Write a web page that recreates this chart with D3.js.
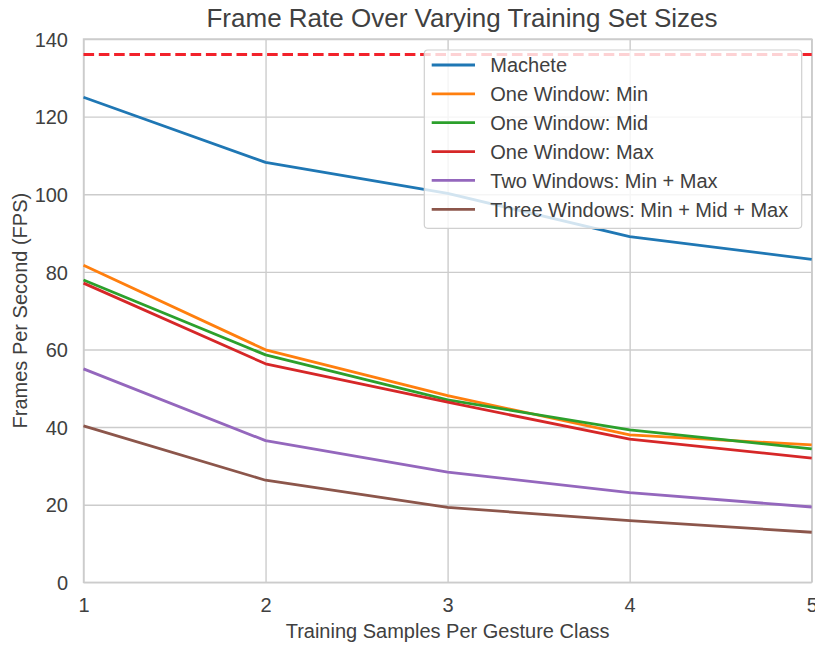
<!DOCTYPE html>
<html>
<head>
<meta charset="utf-8">
<script src="https://cdn.jsdelivr.net/npm/d3@7"></script>
<style>
  html, body { margin: 0; padding: 0; background: #ffffff; }
  svg { display: block; font-family: "Liberation Sans", Arial, Helvetica, sans-serif; }
</style>
</head>
<body>
<svg id="chart" width="815" height="646"></svg>
<script>
// Training samples per gesture class
const samples = [1, 2, 3, 4, 5];

// Frames per second for each recognizer configuration
const machete = [125.0, 108.2, 100.2, 89.1, 83.2];
const oneWindowMin = [81.7, 59.9, 48.1, 38.0, 35.4];
const oneWindowMid = [77.9, 58.6, 47.0, 39.3, 34.4];
const oneWindowMax = [77.1, 56.3, 46.4, 36.9, 32.0];
const twoWindows = [55.0, 36.5, 28.4, 23.1, 19.4];
const threeWindows = [40.3, 26.3, 19.3, 15.9, 12.9];

// Reference frame rate (dashed line)
const referenceFps = 136;

const seriesNames = [
  "Machete",
  "One Window: Min",
  "One Window: Mid",
  "One Window: Max",
  "Two Windows: Min + Max",
  "Three Windows: Min + Mid + Max"
];
const seriesValues = [machete, oneWindowMin, oneWindowMid, oneWindowMax, twoWindows, threeWindows];
const seriesColors = ["#1f77b4", "#ff7f0e", "#2ca02c", "#d62728", "#9467bd", "#8c564b"];

const yTicks = [0, 20, 40, 60, 80, 100, 120, 140];
const xTicks = [1, 2, 3, 4, 5];

const svg = d3.select("#chart");
const plotLeft = 83.5, plotRight = 811.7, plotTop = 39, plotBottom = 582.3;

const x = d3.scaleLinear().domain([1, 5]).range([plotLeft, plotRight]);
const y = d3.scaleLinear().domain([0, 140]).range([plotBottom, plotTop]);

const gridColor = "#cccccc";
const textColor = "#404040";

// Grid lines
svg.append("g")
  .attr("transform", `translate(0,${plotBottom})`)
  .call(d3.axisBottom(x).tickValues(xTicks).tickSize(-(plotBottom - plotTop)).tickFormat(""))
  .call(g => g.select(".domain").remove())
  .selectAll("line").attr("stroke", gridColor).attr("stroke-width", 1.4);

svg.append("g")
  .attr("transform", `translate(${plotLeft},0)`)
  .call(d3.axisLeft(y).tickValues(yTicks).tickSize(-(plotRight - plotLeft)).tickFormat(""))
  .call(g => g.select(".domain").remove())
  .selectAll("line").attr("stroke", gridColor).attr("stroke-width", 1.4);

// Frame
svg.append("rect")
  .attr("x", plotLeft).attr("y", plotTop)
  .attr("width", plotRight - plotLeft).attr("height", plotBottom - plotTop)
  .attr("fill", "none").attr("stroke", gridColor).attr("stroke-width", 1.4);

// Tick labels
const xAxis = svg.append("g")
  .attr("transform", `translate(0,${plotBottom})`)
  .call(d3.axisBottom(x).tickValues(xTicks).tickSize(0).tickPadding(0).tickFormat(d3.format("d")));
xAxis.select(".domain").remove();
xAxis.selectAll("text")
  .attr("y", 30).attr("dy", 0)
  .attr("fill", textColor).style("font-size", "20px").style("font-family", "Liberation Sans, Arial, sans-serif");

const yAxis = svg.append("g")
  .attr("transform", `translate(${plotLeft},0)`)
  .call(d3.axisLeft(y).tickValues(yTicks).tickSize(0).tickPadding(15.5).tickFormat(d3.format("d")));
yAxis.select(".domain").remove();
yAxis.selectAll("text")
  .attr("dy", "0.36em")
  .attr("fill", textColor).style("font-size", "20px").style("font-family", "Liberation Sans, Arial, sans-serif");

// Reference line
svg.append("line")
  .attr("x1", x(1)).attr("x2", x(5))
  .attr("y1", y(referenceFps)).attr("y2", y(referenceFps))
  .attr("stroke", "#f2222b").attr("stroke-width", 2.8)
  .attr("stroke-dasharray", "10.6,4.7");

// Series lines
const line = d3.line()
  .x((d, i) => x(samples[i]))
  .y(d => y(d));

seriesValues.forEach((vals, k) => {
  svg.append("path")
    .datum(vals)
    .attr("d", line)
    .attr("fill", "none")
    .attr("stroke", seriesColors[k])
    .attr("stroke-width", 2.8)
    .attr("stroke-linejoin", "round");
});

// Titles
svg.append("text")
  .attr("x", 462).attr("y", 27)
  .attr("text-anchor", "middle")
  .attr("fill", textColor)
  .style("font-size", "26px")
  .text("Frame Rate Over Varying Training Set Sizes");

svg.append("text")
  .attr("x", (plotLeft + plotRight) / 2).attr("y", 638)
  .attr("text-anchor", "middle")
  .attr("fill", textColor)
  .style("font-size", "20px")
  .text("Training Samples Per Gesture Class");

svg.append("text")
  .attr("transform", `translate(26.5,${(plotTop + plotBottom) / 2}) rotate(-90)`)
  .attr("text-anchor", "middle")
  .attr("fill", textColor)
  .style("font-size", "20px")
  .text("Frames Per Second (FPS)");

// Legend
const legend = svg.append("g");
legend.append("rect")
  .attr("x", 424.3).attr("y", 50)
  .attr("width", 377.4).attr("height", 178.3)
  .attr("rx", 3.5)
  .attr("fill", "#ffffff").attr("fill-opacity", 0.8)
  .attr("stroke", "#d0d0d0").attr("stroke-width", 1.2);

const rowY = d3.scaleLinear().domain([0, 5]).range([65, 209.3]);
seriesNames.forEach((name, k) => {
  const cy = rowY(k);
  legend.append("line")
    .attr("x1", 431.7).attr("x2", 475)
    .attr("y1", cy).attr("y2", cy)
    .attr("stroke", seriesColors[k]).attr("stroke-width", 2.8);
  legend.append("text")
    .attr("x", 490.3).attr("y", cy).attr("dy", "0.36em")
    .attr("fill", textColor)
    .style("font-size", "20px")
    .text(name);
});
</script>
</body>
</html>
